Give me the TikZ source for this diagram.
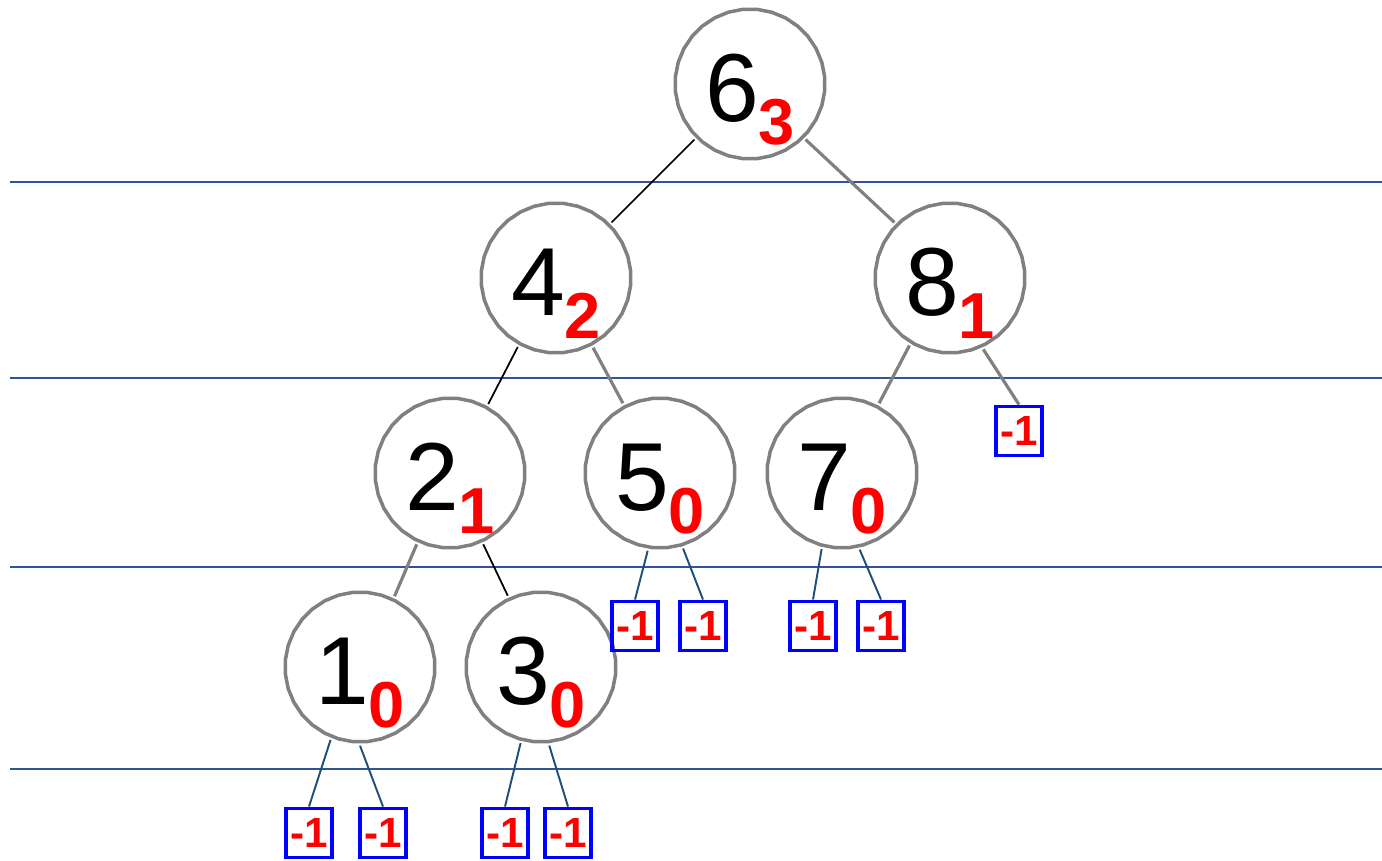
\documentclass[tikz,border=0pt]{standalone}
\usepackage{fontspec}
\setmainfont{Liberation Sans}
\usepackage{xcolor}
\usepackage{tikz}
\usetikzlibrary{shapes.geometric,positioning}
\definecolor{lineblue}{RGB}{47,85,151}
\definecolor{nilblue}{RGB}{31,78,121}
\newcommand{\nv}[2]{#1\raisebox{-0.46cm}{\color{red}\bfseries\fontsize{37}{37}\selectfont #2}}

\begin{document}
\begin{tikzpicture}[x=0.02cm, y=-0.02cm,
  vtx/.style={draw=gray, line width=2pt, regular polygon, regular polygon sides=32, minimum size=3cm, inner sep=0pt, outer sep=0.08cm, text height=1.8cm, text depth=0.28cm, font=\fontsize{55}{55}\selectfont},
  nil/.style={draw=blue, line width=2.2pt, minimum width=0.92cm, minimum height=0.98cm, inner sep=0pt, text=red, font=\fontsize{24}{24}\selectfont\bfseries},
  level/.style={draw=lineblue, line width=1.1pt},
  gedge/.style={draw=gray, line width=1.8pt},
  kedge/.style={draw=black, line width=1pt},
  nedge/.style={draw=nilblue, line width=1.1pt}
]
\useasboundingbox (0,0) rectangle (1382,861);

% height levels
\foreach \y in {182,378,567,769} \draw[level] (10,\y) -- (1382,\y);

\node[vtx] (n6) at (750,84) {\nv{6}{3}};
\node[vtx] (n4) at (556,278) {\nv{4}{2}};
\node[vtx] (n8) at (950,278) {\nv{8}{1}};
\node[vtx] (n2) at (450,473) {\nv{2}{1}};
\node[vtx] (n5) at (660,473) {\nv{5}{0}};
\node[vtx] (n7) at (842,473) {\nv{7}{0}};
\node[vtx] (n1) at (360,667) {\nv{1}{0}};
\node[vtx] (n3) at (541,667) {\nv{3}{0}};

% empty subtrees
\node[nil] (x8) at (1019,431) {-1};
\node[nil] (x5a) at (635,626) {-1};
\node[nil] (x5b) at (703,626) {-1};
\node[nil] (x7a) at (813,626) {-1};
\node[nil] (x7b) at (881,626) {-1};
\node[nil] (x1a) at (309,833) {-1};
\node[nil] (x1b) at (383,833) {-1};
\node[nil] (x3a) at (505,833) {-1};
\node[nil] (x3b) at (568,833) {-1};

\draw[kedge] (n6.225) -- (n4.45);
\draw[gedge] (n6.315) -- (n8.135);
\draw[kedge] (n4.241) -- (n2.61);
\draw[gedge] (n4.298) -- (n5.118);
\draw[gedge] (n8.239) -- (n7.62);
\draw[gedge] (n8.295) -- (x8.north);
\draw[gedge] (n2.245) -- (n1.64);
\draw[kedge] (n2.295) -- (n3.115);
\draw[nedge] (n5.261) -- (x5a.north);
\draw[nedge] (n5.287) -- (x5b.north);
\draw[nedge] (n7.255) -- (x7a.north);
\draw[nedge] (n7.283) -- (x7b.north);
\draw[nedge] (n1.248) -- (x1a.north);
\draw[nedge] (n1.270) -- (x1b.north);
\draw[nedge] (n3.255) -- (x3a.north);
\draw[nedge] (n3.276) -- (x3b.north);

\end{tikzpicture}
\end{document}
